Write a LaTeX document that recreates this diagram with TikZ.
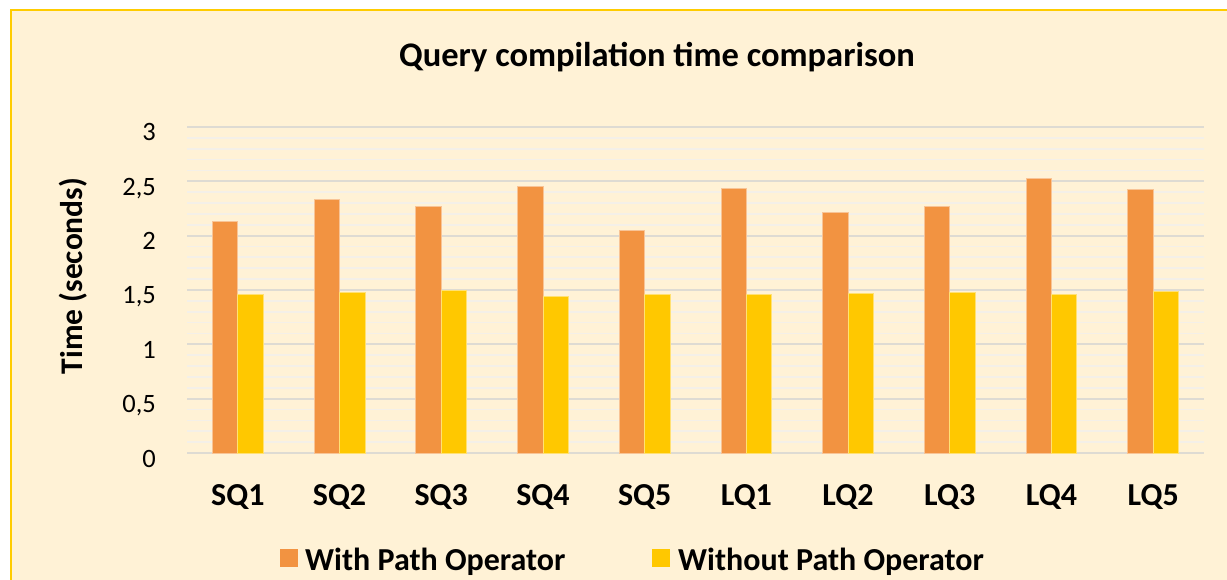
\documentclass[tikz,border=0pt]{standalone}
\usepackage{fontspec}
\setmainfont{Carlito}
\definecolor{chartbg}{HTML}{FFF2D6}
\definecolor{frameyel}{HTML}{FFCC00}
\definecolor{withop}{HTML}{F29341}
\definecolor{withoutop}{HTML}{FFC800}
\definecolor{majorgrid}{HTML}{DEDBD3}
\definecolor{minorgrid}{HTML}{F4F0E8}
\begin{document}
\begin{tikzpicture}[x=1pt,y=-1pt,
    ticklbl/.style={font=\fontsize{26.5}{28}\selectfont, inner sep=0pt},
    boldlbl/.style={font=\fontsize{32}{34}\selectfont\bfseries, inner sep=0pt}]
  \useasboundingbox (0,0) rectangle (1227,580);
  \fill[white] (0,0) rectangle (1227,580);
  \filldraw[fill=chartbg, draw=frameyel, line width=2pt] (11,10) rectangle (1240,595);
  \node[boldlbl, font=\fontsize{34.5}{36}\selectfont\bfseries, anchor=base] (title) at (657,67) {Query compilation time comparison};
  \node[boldlbl, font=\fontsize{31.5}{33}\selectfont\bfseries, rotate=90] (ytitle) at (73,276) {Time (seconds)};
  % plot area: one unit in x per query, one unit in y per second
  \begin{scope}[shift={(187,453)}, x=101.7pt, y=108.67pt]
    \foreach \k in {1,...,30}
      \draw[minorgrid, line width=1.8pt] (0,\k/10) -- (10,\k/10);
    \foreach \k in {0,...,6}
      \draw[majorgrid, line width=1.8pt] (0,\k/2) -- (10,\k/2);
    \foreach \v/\t [count=\n] in {0/0, 0.5/{0,5}, 1/1, 1.5/{1,5}, 2/2, 2.5/{2,5}, 3/3}
      \node[ticklbl, anchor=base east] (tick\n) at ([xshift=-31pt,yshift=-14pt]0,\v) {\t};
    \foreach \i/\a/\b in {0/2.134/1.46, 1/2.33/1.48, 2/2.27/1.50, 3/2.457/1.445, 4/2.046/1.463,
                          5/2.439/1.46, 6/2.215/1.47, 7/2.273/1.475, 8/2.53/1.46, 9/2.427/1.485} {
      \filldraw[fill=withop, draw=withop!55!white, line width=0.8pt] (\i+0.25,0) rectangle (\i+0.5,\a);
      \filldraw[fill=withoutop, draw=withoutop!55!white, line width=0.8pt] (\i+0.5,0) rectangle (\i+0.75,\b);
    }
    \foreach \c [count=\n from 0] in {SQ1,SQ2,SQ3,SQ4,SQ5,LQ1,LQ2,LQ3,LQ4,LQ5}
      \node[boldlbl, anchor=base] (cat\n) at ([yshift=-52pt]\n+0.5,0) {\c};
  \end{scope}
  % legend
  \fill[withop] (280,549) rectangle (298,567);
  \node[boldlbl, anchor=base west] (legwith) at (305,570) {With Path Operator};
  \fill[withoutop] (652,549) rectangle (670,567);
  \node[boldlbl, anchor=base west] (legwithout) at (678,570) {Without Path Operator};
\end{tikzpicture}
\end{document}
